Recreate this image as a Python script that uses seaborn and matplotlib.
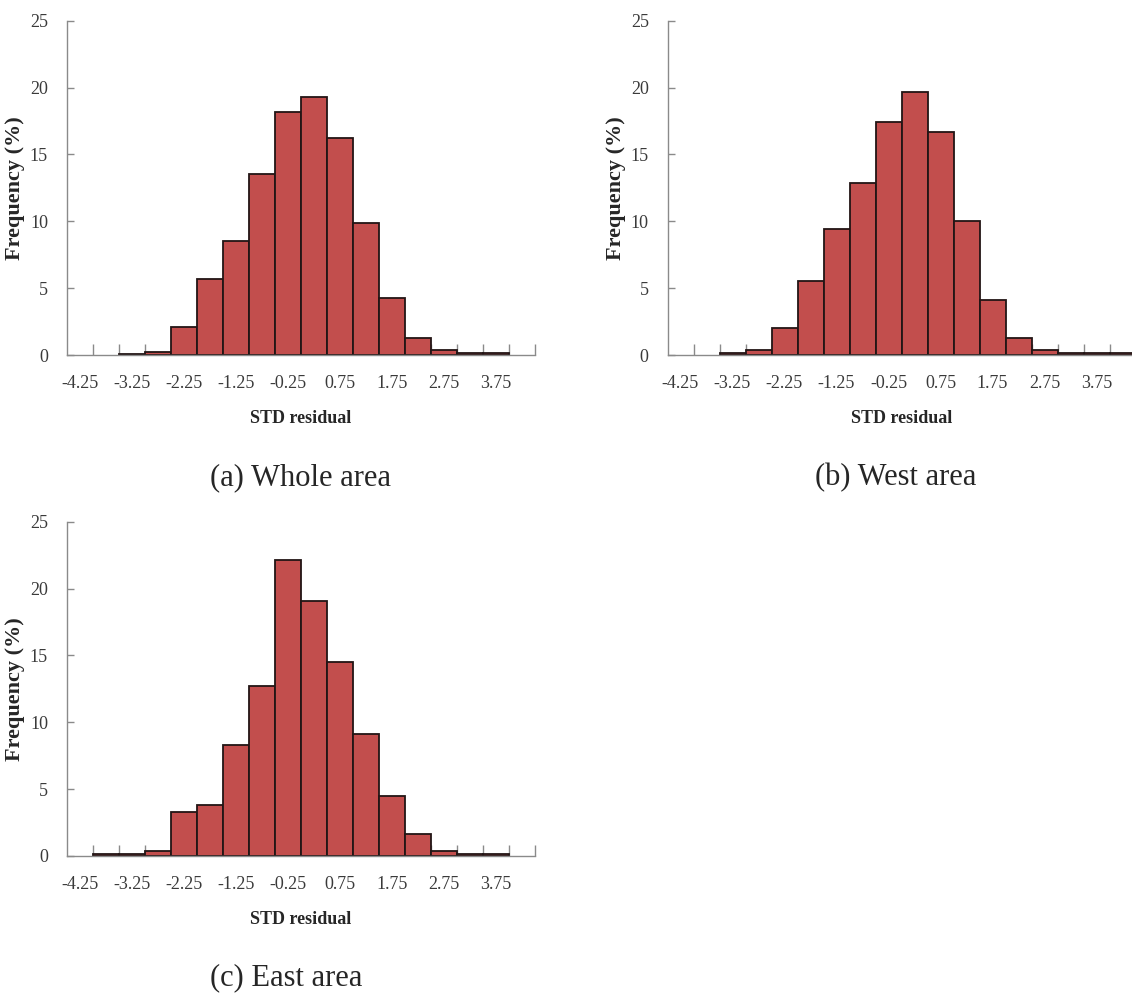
import numpy as np
import matplotlib
matplotlib.use("Agg")
import matplotlib.pyplot as plt
from matplotlib.ticker import FixedLocator
import seaborn as sns

# ---- data ----
categories = ["-4.25", "-3.75", "-3.25", "-2.75", "-2.25", "-1.75", "-1.25", "-0.75", "-0.25",
              "0.25", "0.75", "1.25", "1.75", "2.25", "2.75", "3.25", "3.75", "4.25"]
whole_area = [0, 0, 0.10, 0.25, 2.1, 5.7, 8.55, 13.5, 18.2, 19.3, 16.2, 9.85, 4.25, 1.3, 0.37, 0.15, 0.15, 0]
west_area = [0, 0, 0.17, 0.37, 2.0, 5.55, 9.45, 12.9, 17.4, 19.65, 16.7, 10.0, 4.1, 1.3, 0.37, 0.12, 0.12, 0.12]
east_area = [0, 0.12, 0.12, 0.37, 3.3, 3.8, 8.3, 12.7, 22.1, 19.1, 14.5, 9.1, 4.5, 1.65, 0.37, 0.12, 0.12, 0]
shown_xlabels = categories[::2]
y_ticks = [0, 5, 10, 15, 20, 25]
captions = ["(a) Whole area", "(b) West area", "(c) East area"]
x_title = "STD residual"
y_title = "Frequency (%)"

# ---- style ----
sns.set_style("white")
plt.rcParams['font.family'] = ['Liberation Serif', 'DejaVu Serif']

FILL = "#C24E4D"
EDGE = "#221515"
AXCOL = "#8a8a8a"
TICKTXT = "#3a3a3a"

W, H = 1132, 994
fig = plt.figure(figsize=(W / 100, H / 100), dpi=100)


def px_axes(left, baseline, top, width):
    return [left / W, (H - baseline) / H, width / W, (baseline - top) / H]


panel_specs = [
    (whole_area, px_axes(66.7, 355, 20.7, 468), (210, 478)),
    (west_area, px_axes(667.5, 355, 20.7, 468), (815, 478)),
    (east_area, px_axes(66.7, 856, 521.7, 468), (210, 978)),
]

for (vals, rect, cap_pos), cap in zip(panel_specs, captions):
    ax = fig.add_axes(rect)
    sns.barplot(x=categories, y=vals, order=categories, color=FILL, saturation=1,
                edgecolor=EDGE, linewidth=1.3, width=1.0, ax=ax)
    for p in ax.patches:
        if p.get_height() == 0:
            p.set_linewidth(0)
    ax.set_xlim(-0.5, len(categories) - 0.5)
    ax.set_ylim(0, 25)
    ax.set_yticks(y_ticks)
    ax.set_xticks(range(0, len(categories), 2))
    ax.set_xticklabels(shown_xlabels)
    ax.xaxis.set_minor_locator(FixedLocator(np.arange(0.5, len(categories), 1)))
    ax.tick_params(axis='x', which='major', length=0, pad=14.5, labelsize=13, labelcolor=TICKTXT)
    ax.tick_params(axis='x', which='minor', direction='in', length=8, width=1, color=AXCOL, bottom=True)
    ax.tick_params(axis='y', direction='in', length=5, width=1, color=AXCOL, pad=13.5,
                   labelsize=13, labelcolor=TICKTXT, left=True)
    for s in ['top', 'right']:
        ax.spines[s].set_visible(False)
    for s in ['left', 'bottom']:
        ax.spines[s].set_color(AXCOL)
        ax.spines[s].set_linewidth(1)
    ax.set_xlabel(x_title, fontweight='bold', fontsize=13)
    ax.set_ylabel(y_title, fontweight='bold', fontsize=16)
    ax.xaxis.set_label_coords(0.5, -55 / 334.3)
    ax.yaxis.set_label_coords(-42 / 468, 0.5)
    fig.text(cap_pos[0] / W, 1 - cap_pos[1] / H, cap, ha='left', va='center', fontsize=22)

fig.savefig("out.png", dpi=100)
